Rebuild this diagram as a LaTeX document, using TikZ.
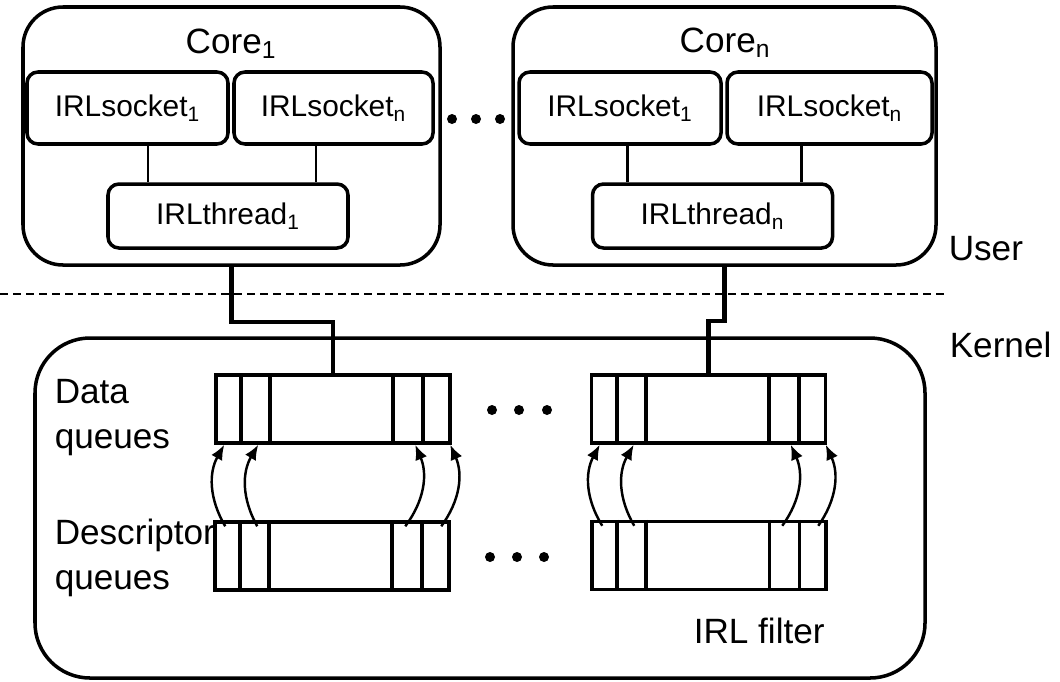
\documentclass[tikz,border=0pt]{standalone}
\usepackage{fontspec}
\setmainfont{Liberation Sans}
\usetikzlibrary{arrows.meta}

\begin{document}
\begin{tikzpicture}[line width=2pt,
        core/.style = {draw, rounded corners=0.8cm,
                minimum height=5.16cm},
        sock/.style = {draw, rounded corners=0.22cm,
                minimum height=1.44cm,
                font=\fontsize{17}{20}\selectfont},
        thrd/.style = {draw, rounded corners=0.22cm,
                minimum height=1.28cm, minimum width=4.8cm,
                font=\fontsize{17}{20}\selectfont},
        queue/.style = {draw, minimum width=4.68cm,
                minimum height=1.36cm},
        lbl/.style = {inner sep=0pt,
                font=\fontsize{20}{25.6}\selectfont},
        flow/.style = {line width=1.4pt,
                -{Latex[length=0.3cm,width=0.25cm]}},
        bus/.style = {line width=2.4pt}]

    \useasboundingbox (0,0) rectangle (21.2,-13.62);

    % Cores
    \node[core, minimum width=8.34cm] (core1) at (4.63,-2.72) {};
    \node[core, minimum width=8.46cm] (coren) at (14.49,-2.72) {};
    \node[lbl, anchor=base] (core1lbl) at (4.62,-1.07) {Core\textsubscript{1}};
    \node[lbl, anchor=base] (corenlbl) at (14.5,-1.05) {Core\textsubscript{n}};

    % Sockets
    \node[sock, minimum width=4.02cm] (s11) at (2.55,-2.16) {IRLsocket\textsubscript{1}};
    \node[sock, minimum width=3.98cm] (s1n) at (6.67,-2.16) {IRLsocket\textsubscript{n}};
    \node[sock, minimum width=4.04cm] (sn1) at (12.4,-2.16) {IRLsocket\textsubscript{1}};
    \node[sock, minimum width=4.1cm] (snn) at (16.59,-2.16) {IRLsocket\textsubscript{n}};

    % Threads
    \node[thrd] (t1) at (4.56,-4.32) {IRLthread\textsubscript{1}};
    \node[thrd] (tn) at (14.25,-4.32) {IRLthread\textsubscript{n}};

    % Socket to thread
    \foreach \s/\t/\dx in {s11/t1/0.41, s1n/t1/-0.35, sn1/tn/0.14, snn/tn/-0.57}
        \draw[line width=1.7pt] ([xshift=\dx cm]\s.south) -- ([xshift=\dx cm]\s.south |- \t.north);

    % Dots between cores
    \foreach \x in {9.04,9.52,10.0}
        \fill (\x,-2.38) circle (0.1);

    % User / kernel border
    \coordinate (sepl) at (0,-5.88);
    \coordinate (sepr) at (18.94,-5.88);
    \draw[dash pattern=on 0.16cm off 0.1cm, line width=1.2pt] (sepl) -- (sepr);
    \node[lbl, anchor=base west] (user) at (18.94,-5.2) {User};
    \node[lbl, anchor=base west] (kern) at (18.96,-7.14) {Kernel};

    % Kernel box
    \node[draw, rounded corners=1.1cm, minimum width=17.8cm,
        minimum height=6.8cm] (kernelbox) at (9.6,-10.16) {};

    % Queues
    \node[queue] (dq1) at (6.66,-8.18) {};
    \node[queue] (qq1) at (6.64,-11.12) {};
    \node[queue] (dq2) at (14.17,-8.18) {};
    \node[queue] (qq2) at (14.18,-11.11) {};
    \foreach \q in {dq1,qq1,dq2,qq2}
        \foreach \d in {0.54,1.12,3.58,4.18}
            \draw ([xshift=\d cm]\q.north west) -- ([xshift=\d cm]\q.south west);

    \foreach \x in {9.84,10.38,10.94}
        \fill (\x,-8.2) circle (0.1);
    \foreach \x in {9.8,10.34,10.88}
        \fill (\x,-11.14) circle (0.1);

    % Thread to data queue
    \draw[bus] (core1.south) -- ++(0,-1.1) -| (dq1.north);
    \draw[bus] (coren.south) -- ++(0,-1.08) -| (dq2.north);

    % Descriptor to data
    \foreach \q in {1,2} {
        \foreach \a/\b in {0.24/0.2, 0.88/0.88}
            \draw[flow] ([xshift=\a cm, yshift=-0.12cm]qq\q.north west) to[bend left=30] ([xshift=\b cm]dq\q.south west);
        \foreach \a/\b in {3.84/4.02, 4.56/4.72}
            \draw[flow] ([xshift=\a cm, yshift=-0.12cm]qq\q.north west) to[bend right=30] ([xshift=\b cm]dq\q.south west);
    }

    % Labels
    \node[lbl, anchor=west, align=left] (dlbl) at (1.06,-8.35) {Data\\queues};
    \node[lbl, anchor=west, align=left] (qlbl) at (1.06,-11.16) {Descriptor\\queues};
    \node[lbl, anchor=base west] (filt) at (13.84,-12.86) {IRL filter};

\end{tikzpicture}
\end{document}
